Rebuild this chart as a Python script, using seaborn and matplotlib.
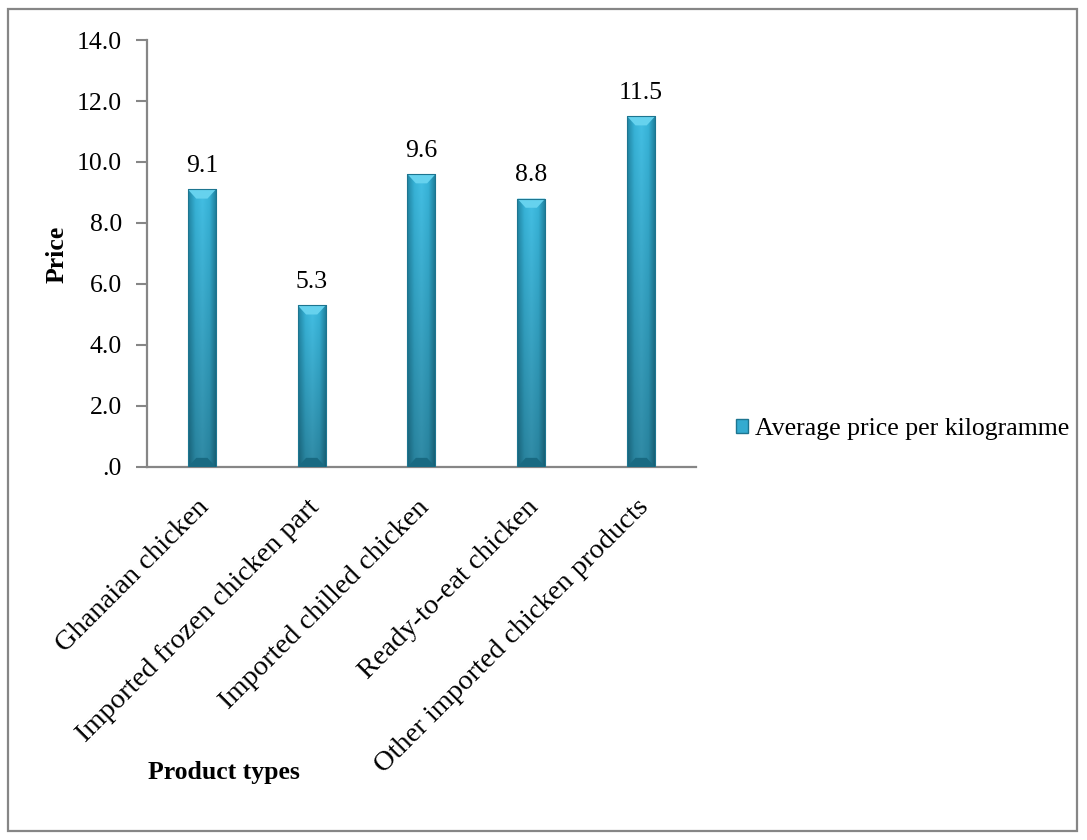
import numpy as np
import pandas as pd
import matplotlib
matplotlib.use("Agg")
import matplotlib.pyplot as plt
import matplotlib.transforms as mtransforms
from matplotlib.patches import Rectangle, Patch, Polygon
from matplotlib.ticker import FuncFormatter, MultipleLocator
from matplotlib.colors import LinearSegmentedColormap
import seaborn as sns

categories = [
    "Ghanaian chicken",
    "Imported frozen chicken part",
    "Imported chilled chicken",
    "Ready-to-eat chicken",
    "Other imported chicken products",
]
prices = [9.1, 5.3, 9.6, 8.8, 11.5]
series_name = "Average price per kilogramme"

df = pd.DataFrame({"Product": categories, "Price": prices})

sns.set_theme(style="white")
plt.rcParams["font.family"] = ["Liberation Serif", "DejaVu Serif"]
plt.rcParams["text.color"] = "black"
plt.rcParams["xtick.color"] = "black"
plt.rcParams["ytick.color"] = "black"
FS = 18.5
FS_X = 20.5

fig = plt.figure(figsize=(10.87, 8.40), dpi=100)
ax = fig.add_axes([0.1352, 0.44405, 0.5051, 0.50833])

base = "#2b9cbf"
sns.barplot(data=df, x="Product", y="Price", color=base, width=0.255,
            saturation=1, ax=ax, zorder=3)

# cylinder-like shading: darker edges, lighter centre, darker toward the base
cmap_h = LinearSegmentedColormap.from_list(
    "h", ["#20829f", "#36afd3", "#42bbdf", "#36afd3", "#1c7893"])
for p in ax.patches:
    x0, y0 = p.get_x(), p.get_y()
    w, h = p.get_width(), p.get_height()
    xs = np.linspace(0, 1, 64)
    ys = np.linspace(0, 1, 64)
    X, Y = np.meshgrid(xs, ys)
    rgba = cmap_h(X)
    # vertical darkening toward the bottom
    shade = 0.74 + 0.28 * Y
    rgba[..., :3] = np.clip(rgba[..., :3] * shade[..., None], 0, 1)
    im = ax.imshow(rgba, extent=[x0, x0 + w, y0, y0 + h], origin="lower",
                   aspect="auto", zorder=4, interpolation="bilinear")
    im.set_clip_path(p)
    # bevelled ends
    bev = 0.30 * w
    bev_y = 0.30
    top = Polygon([[x0, y0 + h], [x0 + w, y0 + h], [x0 + w - bev, y0 + h - bev_y],
                   [x0 + bev, y0 + h - bev_y]], closed=True,
                  facecolor="#66d2ee", edgecolor="none", zorder=5)
    ax.add_patch(top)
    bot = Polygon([[x0, y0], [x0 + w, y0], [x0 + w - bev, y0 + bev_y],
                   [x0 + bev, y0 + bev_y]], closed=True,
                  facecolor="#196a82", edgecolor="none", zorder=5)
    ax.add_patch(bot)
    p.set_edgecolor("#1d7590")
    p.set_linewidth(0.8)
    p.set_zorder(6)
    p.set_facecolor("none")

ax.bar_label(ax.containers[0], labels=[f"{v:.1f}" for v in prices],
             padding=9, fontsize=FS, color="black")

ax.set_ylim(0, 14)
ax.set_xlim(-0.5, len(categories) - 0.5)
ax.yaxis.set_major_locator(MultipleLocator(2))


def fmt(v, pos):
    s = f"{v:.1f}"
    return s[1:] if s.startswith("0") else s


ax.yaxis.set_major_formatter(FuncFormatter(fmt))
ax.tick_params(axis="y", which="major", direction="out", length=8, width=1.5,
               color="#868686", labelcolor="black", labelsize=FS, pad=10,
               left=True)
ax.tick_params(axis="x", length=0, labelsize=FS_X, labelcolor="black", pad=20)
shift = mtransforms.ScaledTranslation(-5 / 100, 0, fig.dpi_scale_trans)
for lbl in ax.get_xticklabels():
    lbl.set_rotation(45)
    lbl.set_ha("right")
    lbl.set_rotation_mode("anchor")
    lbl.set_transform(lbl.get_transform() + shift)

for side in ["top", "right"]:
    ax.spines[side].set_visible(False)
for side in ["left", "bottom"]:
    ax.spines[side].set_color("#868686")
    ax.spines[side].set_linewidth(1.6)

ax.set_xlabel("")
ax.set_ylabel("")
fig.text(57 / 1087, 1 - 254 / 840, "Price", rotation=90, ha="center",
         va="center", fontsize=FS, fontweight="bold")
fig.text(224 / 1087, 1 - 773 / 840, "Product types", ha="center",
         va="center", fontsize=FS, fontweight="bold")

handle = Patch(facecolor="#34abd0", edgecolor="#1d7590", label=series_name)
fig.legend(handles=[handle], loc="center left",
           bbox_to_anchor=(736 / 1087, 1 - 429 / 840), frameon=False,
           fontsize=FS, handlelength=0.45, handleheight=0.45,
           handletextpad=0.3, borderpad=0, borderaxespad=0)

# outer chart border
fig.patches.append(Rectangle((8 / 1087, 9 / 840), 1069 / 1087, 822 / 840,
                             transform=fig.transFigure, fill=False,
                             edgecolor="#868686", linewidth=1.6))

fig.savefig("out.png", dpi=100)
